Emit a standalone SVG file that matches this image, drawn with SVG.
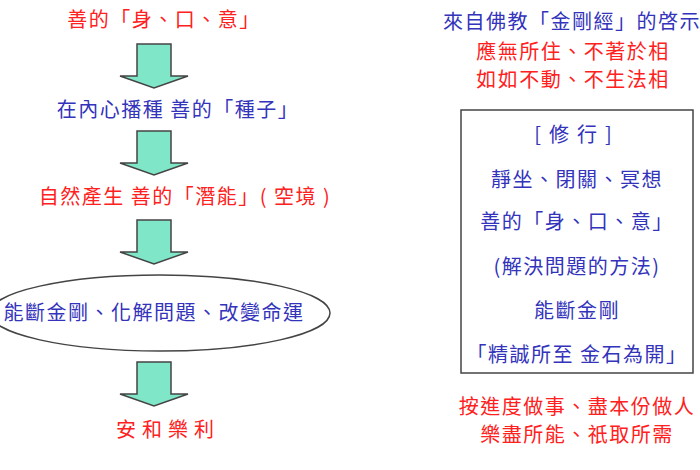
<svg xmlns="http://www.w3.org/2000/svg" width="700" height="470" viewBox="0 0 700 470">
<style>
text{font-family:"Noto Sans CJK TC","Noto Sans CJK SC",sans-serif;font-size:20px;letter-spacing:1.5px;text-anchor:middle}
.r{fill:#ff2020}.b{fill:#3333bb}
.arr{fill:#80e6c8;stroke:#444;stroke-width:1.5}
</style>
<defs><path id="a" d="M-17,0H17V32H34L0,44L-34,32H-17Z"/></defs>
<rect width="700" height="470" fill="#fff"/>
<g id="connectors">
<use href="#a" class="arr" x="154" y="44"/>
<use href="#a" class="arr" x="154" y="131"/>
<use href="#a" class="arr" x="154" y="220"/>
<use href="#a" class="arr" x="154" y="362"/>
</g>
<g id="n1"><text class="r" x="164" y="27">善的「身、口、意」</text></g>
<g id="n2"><text class="b" x="178" y="117">在內心播種 善的「種子」</text></g>
<g id="n3"><text class="r" x="185" y="204">自然產生 善的「潛能」( 空境 )</text></g>
<g id="n4"><ellipse cx="160" cy="313" rx="170" ry="38" fill="#fff" stroke="#444" stroke-width="1.5"/><text class="b" x="154" y="320">能斷金剛、化解問題、改變命運</text></g>
<g id="n5"><text class="r" x="168" y="437" style="letter-spacing:6px">安和樂利</text></g>
<g id="right">
<text class="b" x="572" y="29">來自佛教「金剛經」的啓示</text>
<text class="r" x="573" y="59">應無所住、不著於相</text>
<text class="r" x="573" y="87">如如不動、不生法相</text>
<rect x="461" y="110" width="232" height="263" fill="none" stroke="#444" stroke-width="1.5"/>
<text class="b" x="577" y="142" style="letter-spacing:8px">[修行]</text>
<text class="b" x="577" y="187">靜坐、閉關、冥想</text>
<text class="b" x="577" y="229">善的「身、口、意」</text>
<text class="b" x="577" y="274">(解決問題的方法)</text>
<text class="b" x="577" y="318">能斷金剛</text>
<text class="b" x="577" y="362">「精誠所至 金石為開」</text>
<text class="r" x="577" y="414">按進度做事、盡本份做人</text>
<text class="r" x="577" y="442">樂盡所能、祇取所需</text>
</g>
</svg>
